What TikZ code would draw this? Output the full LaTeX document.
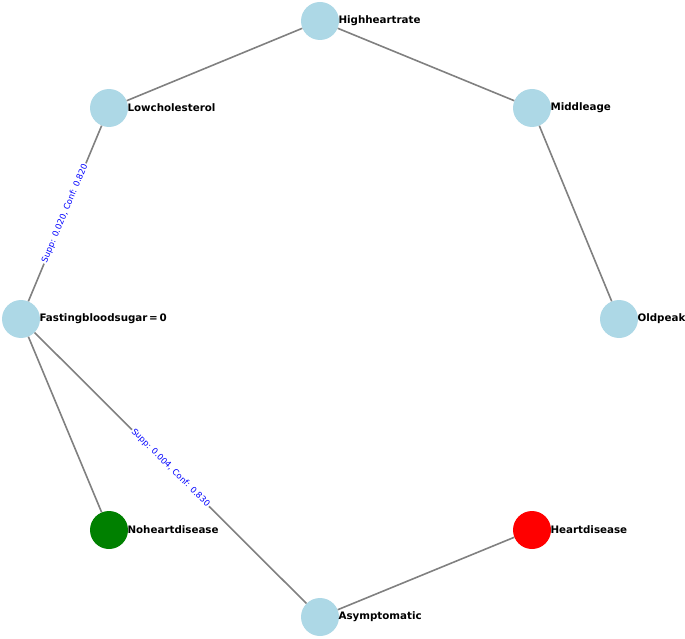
\documentclass[tikz,border=0pt]{standalone}
\usepackage{fontspec}
\setmainfont{DejaVu Sans}
\usetikzlibrary{positioning}
\definecolor{nodeblue}{RGB}{173,216,230}
\definecolor{darkgreen}{RGB}{0,128,0}
\tikzset{
    item/.style={circle, fill=nodeblue, minimum size=38pt, inner sep=0pt},
    itemlabel/.style={font=\fontsize{10.3}{12}\selectfont\bfseries, text=black, anchor=west},
    rule/.style={draw=gray, line width=1.6pt},
    ruletext/.style={midway, sloped, fill=white, inner sep=1pt, text=blue, font=\fontsize{8.4}{10}\selectfont}
}

\begin{document}
\begin{tikzpicture}[x=1pt, y=-1pt]
    \useasboundingbox (0, 0) rectangle (685, 639);

    % items on the ring
    \node[item] (high) at (320, 21) {};
    \node[item] (mid) at (532, 108) {};
    \node[item] (old) at (619, 319) {};
    \node[item, fill=red] (hd) at (532, 530) {};
    \node[item] (asym) at (320, 617) {};
    \node[item, fill=darkgreen] (nohd) at (109, 530) {};
    \node[item] (fbs) at (21, 319) {};
    \node[item] (lowc) at (109, 108) {};

    % item names
    \node[itemlabel] (highT) at ([xshift=15pt]high.center) {Highheartrate};
    \node[itemlabel] (midT) at ([xshift=15pt]mid.center) {Middleage};
    \node[itemlabel] (oldT) at ([xshift=15pt]old.center) {Oldpeak};
    \node[itemlabel] (hdT) at ([xshift=15pt]hd.center) {Heartdisease};
    \node[itemlabel] (asymT) at ([xshift=15pt]asym.center) {Asymptomatic};
    \node[itemlabel] (nohdT) at ([xshift=15pt]nohd.center) {Noheartdisease};
    \node[itemlabel] (fbsT) at ([xshift=15pt]fbs.center) {Fastingbloodsugar\,=\,0};
    \node[itemlabel] (lowcT) at ([xshift=15pt]lowc.center) {Lowcholesterol};

    % rules
    \draw[rule] (lowc) -- (high);
    \draw[rule] (high) -- (mid);
    \draw[rule] (mid) -- (old);
    \draw[rule] (fbs) -- (lowc) node[ruletext] (r1) {Supp: 0.020, Conf: 0.820};
    \draw[rule] (fbs) -- (nohd);
    \draw[rule] (fbs) -- (asym) node[ruletext] (r2) {Supp: 0.004, Conf: 0.830};
    \draw[rule] (asym) -- (hd);
\end{tikzpicture}
\end{document}
